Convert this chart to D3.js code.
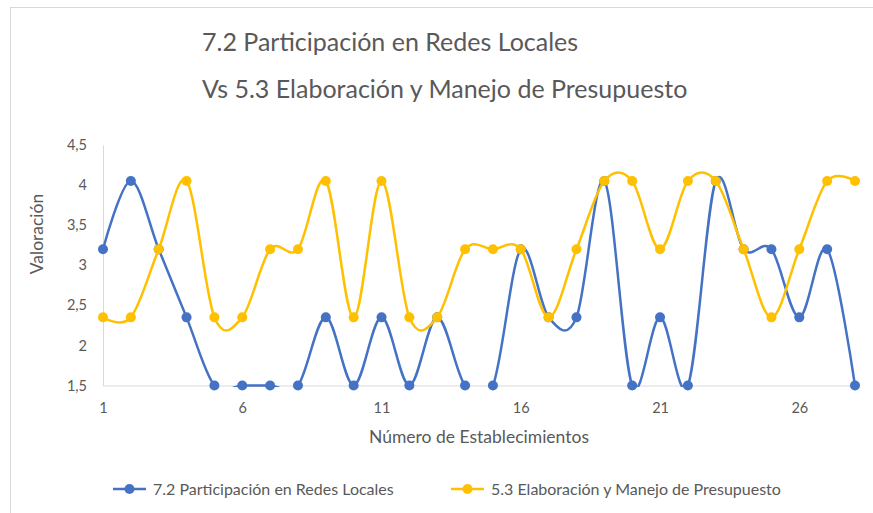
<!DOCTYPE html>
<html>
<head>
<meta charset="utf-8">
<script src="https://cdn.jsdelivr.net/npm/d3@7"></script>
<style>
  body { margin: 0; background: #fff; }
  text { font-family: Lato, "Open Sans", sans-serif; fill: #595959; }
</style>
</head>
<body>
<div id="chart"></div>
<script>
// data
var establecimientos = [1, 2, 3, 4, 5, 6, 7, 8, 9, 10, 11, 12, 13, 14,
    15, 16, 17, 18, 19, 20, 21, 22, 23, 24, 25, 26, 27, 28];
var redesLocales = [3.2, 4.05, 3.2, 2.35, 1.5, 1.5, 1.5, 1.5, 2.35, 1.5, 2.35, 1.5, 2.35, 1.5,
    1.5, 3.2, 2.35, 2.35, 4.05, 1.5, 2.35, 1.5, 4.05, 3.2, 3.2, 2.35, 3.2, 1.5];
var presupuesto = [2.35, 2.35, 3.2, 4.05, 2.35, 2.35, 3.2, 3.2, 4.05, 2.35, 4.05, 2.35, 2.35, 3.2,
    3.2, 3.2, 2.35, 3.2, 4.05, 4.05, 3.2, 4.05, 4.05, 3.2, 2.35, 3.2, 4.05, 4.05];
var seriesNames = ["7.2 Participación en Redes Locales", "5.3 Elaboración y Manejo de Presupuesto"];
var seriesColors = ["#4472C4", "#FFC000"];
var xTicks = [1, 6, 11, 16, 21, 26];
var yTicks = [1.5, 2, 2.5, 3, 3.5, 4, 4.5];

var W = 873, H = 513;
var plot = {left: 103, right: 855, top: 145, bottom: 385.5};

var svg = d3.select("#chart").append("svg")
    .attr("width", W)
    .attr("height", H);

svg.append("rect")
    .attr("width", W).attr("height", H)
    .attr("fill", "#fff");

// chart frame
svg.append("rect")
    .attr("x", 10.5).attr("y", 7.5)
    .attr("width", W + 20).attr("height", H + 20)
    .attr("fill", "none")
    .attr("stroke", "#d9d9d9");

var x = d3.scaleLinear()
    .domain([1, 28])
    .range([plot.left, plot.right]);

var y = d3.scaleLinear()
    .domain([1.5, 4.5])
    .range([plot.bottom, plot.top]);

// title
svg.append("text")
    .attr("x", 202).attr("y", 51)
    .style("font-size", "25px")
    .text("7.2 Participación en Redes Locales");
svg.append("text")
    .attr("x", 202).attr("y", 98)
    .style("font-size", "25px")
    .text("Vs 5.3 Elaboración y Manejo de Presupuesto");

// axes
var fmt = function (d) { return String(d).replace(".", ","); };

var yAxis = svg.append("g")
    .attr("transform", "translate(" + plot.left + ",0)")
    .call(d3.axisLeft(y).tickValues(yTicks).tickFormat(fmt).tickSize(0).tickPadding(16));
yAxis.select(".domain").attr("stroke", "#d9d9d9");
yAxis.selectAll("text").style("font-size", "14.5px").attr("fill", "#595959");

var xAxis = svg.append("g")
    .attr("transform", "translate(0," + plot.bottom + ")")
    .call(d3.axisBottom(x).tickValues(xTicks).tickSize(0).tickPadding(17));
xAxis.select(".domain").attr("stroke", "#d9d9d9");
xAxis.selectAll("text").style("font-size", "14.5px").attr("fill", "#595959");

svg.append("text")
    .attr("text-anchor", "middle")
    .attr("transform", "translate(43,234) rotate(-90)")
    .style("font-size", "17.5px")
    .text("Valoración");

svg.append("text")
    .attr("x", (plot.left + plot.right) / 2).attr("y", 443)
    .attr("text-anchor", "middle")
    .style("font-size", "17.5px")
    .text("Número de Establecimientos");

// clip lines to the plot area like the original
svg.append("clipPath").attr("id", "plotclip")
    .append("rect")
    .attr("x", 0).attr("y", plot.top - 2)
    .attr("width", W).attr("height", plot.bottom - plot.top + 3.5);

var line = d3.line()
    .x(function (d, i) { return x(establecimientos[i]); })
    .y(function (d) { return y(d); })
    .curve(d3.curveCardinal.tension(0));

[redesLocales, presupuesto].forEach(function (vals, k) {
    svg.append("path")
        .datum(vals)
        .attr("d", line)
        .attr("clip-path", "url(#plotclip)")
        .attr("fill", "none")
        .attr("stroke", seriesColors[k])
        .attr("stroke-width", 2.5);

    svg.append("g")
        .selectAll("circle")
        .data(vals)
        .enter()
        .append("circle")
        .attr("cx", function (d, i) { return x(establecimientos[i]); })
        .attr("cy", function (d) { return y(d); })
        .attr("r", 5)
        .attr("fill", seriesColors[k]);
});

// legend
var legendX = [113, 451];
seriesNames.forEach(function (name, k) {
    var g = svg.append("g").attr("transform", "translate(" + legendX[k] + ",489)");
    g.append("line")
        .attr("x1", 0).attr("x2", 33)
        .attr("stroke", seriesColors[k])
        .attr("stroke-width", 2.5);
    g.append("circle")
        .attr("cx", 16.5).attr("r", 5)
        .attr("fill", seriesColors[k]);
    g.append("text")
        .attr("x", 40).attr("y", 6)
        .style("font-size", "16px")
        .text(name);
});
</script>
</body>
</html>
